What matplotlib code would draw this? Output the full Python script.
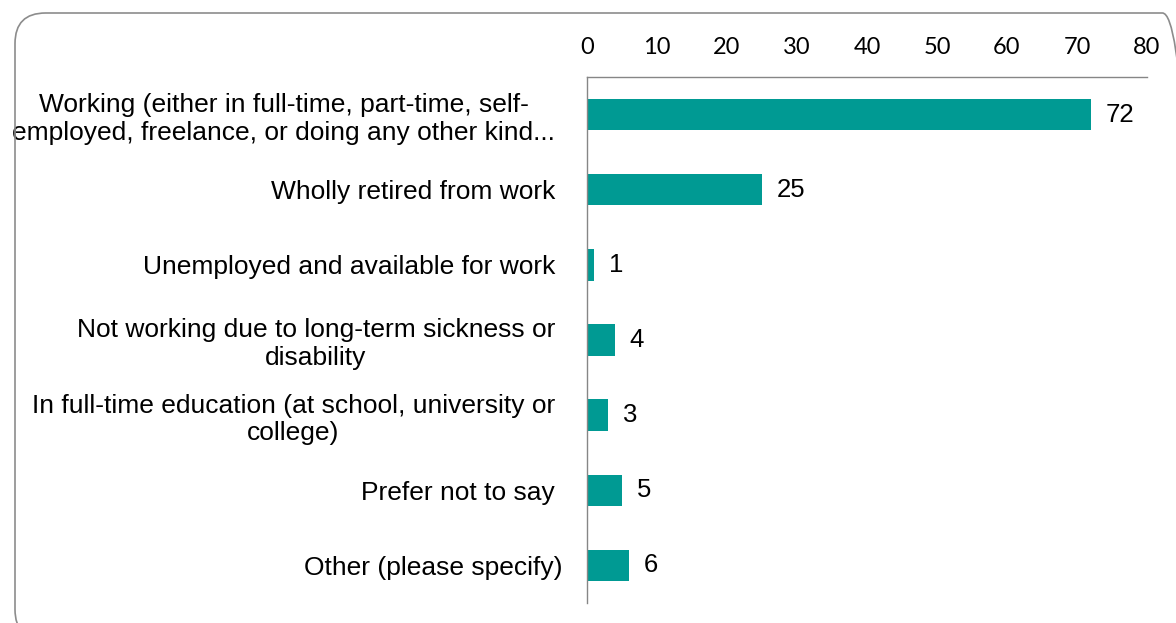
import matplotlib.pyplot as plt
from matplotlib.patches import FancyBboxPatch
from matplotlib.transforms import ScaledTranslation

plt.rcParams['font.family'] = ['Liberation Sans', 'DejaVu Sans']

categories = [
    'Working (either in full-time, part-time, self-\nemployed, freelance, or doing any other kind...',
    'Wholly retired from work',
    'Unemployed and available for work',
    'Not working due to long-term sickness or\ndisability',
    'In full-time education (at school, university or\ncollege)',
    'Prefer not to say',
    'Other (please specify)',
]
values = [72, 25, 1, 4, 3, 5, 6]
ticks = [0, 10, 20, 30, 40, 50, 60, 70, 80]

bar_color = '#009A93'
line_color = '#868686'

W, H = 1176, 623
fig = plt.figure(figsize=(W / 100, H / 100), dpi=100)

# rounded frame around the whole chart (runs off the right and bottom edges)
frame = FancyBboxPatch((15 / W, 1 - 640 / H), (1193 - 15) / W, (640 - 13) / H,
                       boxstyle='round,pad=0,rounding_size=0.026',
                       transform=fig.transFigure, facecolor='none',
                       edgecolor='#8c8c8c', linewidth=1.2,
                       mutation_aspect=W / H)
fig.patches.append(frame)

ax = fig.add_axes([587 / W, 1 - 603 / H, (1147 - 587) / W, (603 - 77) / H])

pos = list(range(len(categories)))
ax.barh(pos, values, height=0.42, color=bar_color)
for p, v in zip(pos, values):
    ax.text(v + 2.1, p, str(v), va='center', ha='left', fontsize=18.5)

ax.set_xlim(0, 80)
ax.set_ylim(len(categories) - 0.5, -0.5)
ax.set_xticks(ticks)
ax.set_xticklabels([str(t) for t in ticks], family=['Lato', 'DejaVu Sans'])
ax.xaxis.tick_top()
ax.tick_params(axis='x', length=0, pad=14, labelsize=17)
ax.set_yticks(pos)
ax.set_yticklabels(categories, multialignment='center', fontsize=19)
ax.tick_params(axis='y', length=0, pad=23)

# last label sits a little closer to the axis
last = ax.get_yticklabels()[-1]
last.set_transform(last.get_transform() + ScaledTranslation(7 / 100, 0, fig.dpi_scale_trans))

for side in ['right', 'bottom']:
    ax.spines[side].set_visible(False)
for side in ['top', 'left']:
    ax.spines[side].set_color(line_color)
    ax.spines[side].set_linewidth(1.0)

fig.savefig('out.png', dpi=100)
